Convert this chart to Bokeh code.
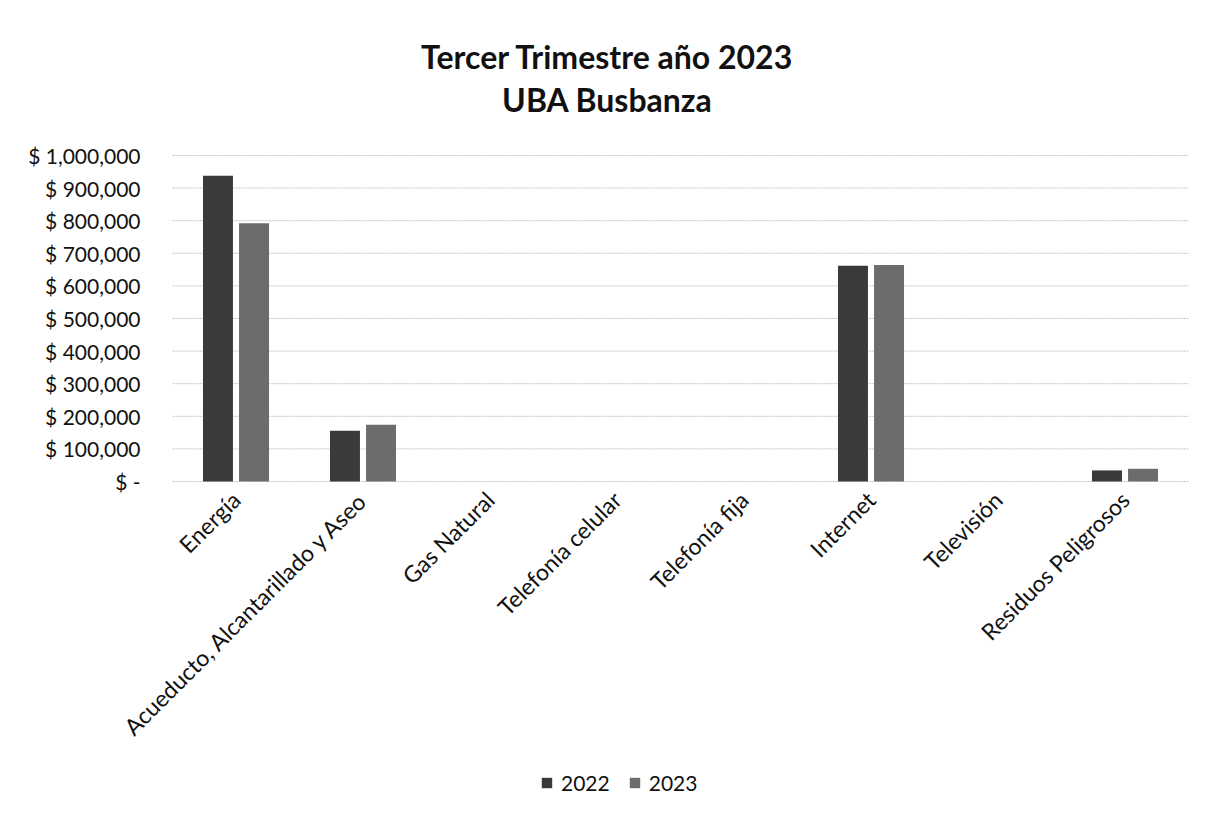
from bokeh.plotting import figure
from bokeh.models import ColumnDataSource, Range1d, FixedTicker, Label, Legend, LegendItem
from bokeh.embed import file_html
from bokeh.resources import INLINE
import math

title_line1 = "Tercer Trimestre año 2023"
title_line2 = "UBA Busbanza"
categories = ["Energía", "Acueducto, Alcantarillado y Aseo", "Gas Natural", "Telefonía celular",
              "Telefonía fija", "Internet", "Televisión", "Residuos Peligrosos"]
series_names = ["2022", "2023"]
values_2022 = [938000, 156000, 0, 0, 0, 662000, 0, 34000]
values_2023 = [792000, 174000, 0, 0, 0, 664000, 0, 39000]
y_ticks = [0, 100000, 200000, 300000, 400000, 500000, 600000, 700000, 800000, 900000, 1000000]
y_tick_labels = ["$ -", "$ 100,000", "$ 200,000", "$ 300,000", "$ 400,000", "$ 500,000",
                 "$ 600,000", "$ 700,000", "$ 800,000", "$ 900,000", "$ 1,000,000"]

FONT = "Lato"
C2022 = "#3a3a3a"
C2023 = "#6c6c6c"

# layout constants (page pixels)
W, H = 1208, 805
PLOT_LEFT, PLOT_RIGHT = 172, 1188
ZERO_Y = 481
PX_PER_CAT = (PLOT_RIGHT - PLOT_LEFT) / len(categories)
PX_PER_UNIT = 326 / 1_000_000
X_MIN = -PLOT_LEFT / PX_PER_CAT
X_MAX = (W - PLOT_LEFT) / PX_PER_CAT
Y_MAX = ZERO_Y / PX_PER_UNIT
Y_MIN = -(H - ZERO_Y) / PX_PER_UNIT

centers = [i + 0.5 for i in range(len(categories))]
src = ColumnDataSource(dict(x1=[c - 0.142 for c in centers], x2=[c + 0.142 for c in centers],
                            v2022=values_2022, v2023=values_2023))
grid_src = ColumnDataSource(dict(y=y_ticks, x0=[0] * len(y_ticks), x1=[len(categories)] * len(y_ticks)))

p = figure(width=W, height=H, x_range=Range1d(X_MIN, X_MAX), y_range=Range1d(Y_MIN, Y_MAX),
           min_border=0, output_backend="svg", toolbar_location=None, tools="")
p.outline_line_color = None
p.xgrid.grid_line_color = None
p.ygrid.grid_line_color = None

# horizontal gridlines across the category area only
p.segment(x0="x0", x1="x1", y0="y", y1="y", source=grid_src,
          line_color="#c4c4c4", line_width=1, line_dash="2 1")

r1 = p.vbar(x="x1", top="v2022", bottom=0, width=0.236, source=src, fill_color=C2022, line_color=None)
r2 = p.vbar(x="x2", top="v2023", bottom=0, width=0.236, source=src, fill_color=C2023, line_color=None)

# y axis
p.yaxis.fixed_location = 0
p.yaxis.ticker = FixedTicker(ticks=y_ticks)
p.yaxis.major_label_overrides = {t_: l for t_, l in zip(y_ticks, y_tick_labels)}
p.yaxis.axis_line_color = None
p.yaxis.major_tick_line_color = None
p.yaxis.minor_tick_line_color = None
p.yaxis.major_label_text_font = FONT
p.yaxis.major_label_text_font_size = "21px"
p.yaxis.major_label_text_color = "#111111"
p.yaxis.major_label_standoff = 26

# x axis (category labels)
p.xaxis.fixed_location = 0
p.xaxis.ticker = FixedTicker(ticks=centers)
p.xaxis.major_label_overrides = {c: n for c, n in zip(centers, categories)}
p.xaxis.axis_line_color = None
p.xaxis.major_tick_line_color = None
p.xaxis.minor_tick_line_color = None
p.xaxis.major_label_orientation = math.pi / 4
p.xaxis.major_label_text_font = FONT
p.xaxis.major_label_text_font_size = "23px"
p.xaxis.major_label_text_color = "#111111"
p.xaxis.major_label_standoff = 8

# title
for txt, ypage in [(title_line1, 55.5), (title_line2, 99)]:
    p.add_layout(Label(x=607, y=H - ypage, x_units="screen", y_units="screen",
                       text=txt, text_font=FONT, text_font_style="bold",
                       text_font_size="32px", text_color="#111111",
                       text_align="center", text_baseline="middle"))

legend = Legend(items=[LegendItem(label=series_names[0], renderers=[r1]),
                       LegendItem(label=series_names[1], renderers=[r2])],
                orientation="horizontal", location=(540, 10),
                label_text_font=FONT, label_text_font_size="21px", label_text_color="#111111",
                glyph_width=13, glyph_height=13, spacing=18, label_standoff=8,
                background_fill_alpha=0, border_line_color=None, padding=2, margin=0)
p.add_layout(legend, "center")

open("out.html", "w").write(file_html(p, INLINE))
